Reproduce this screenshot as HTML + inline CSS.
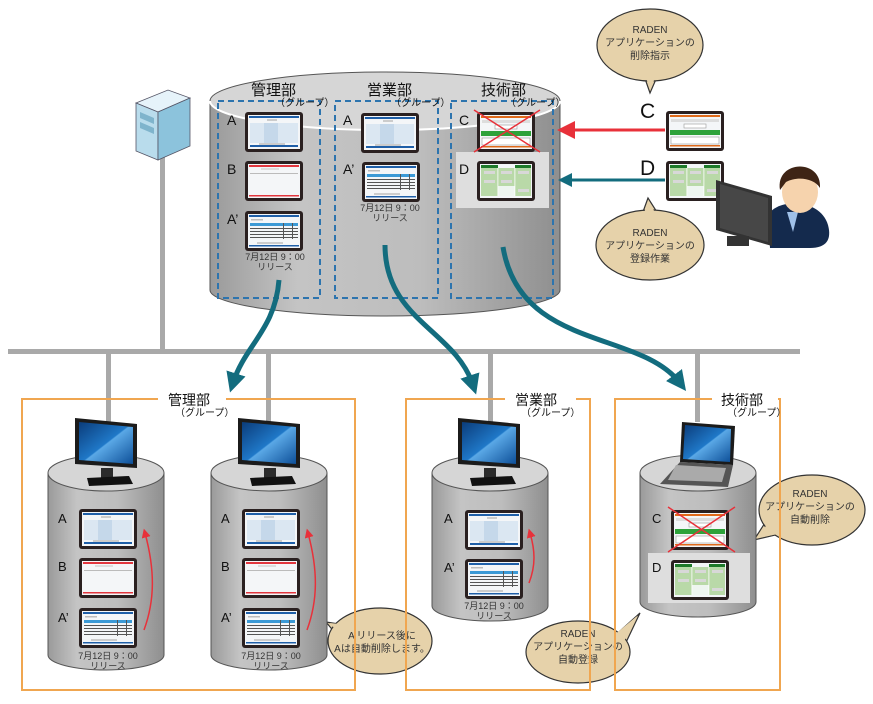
<!DOCTYPE html>
<html><head><meta charset="utf-8"><style>
html,body{margin:0;padding:0;background:#fff}
svg{display:block}
text{font-family:"Liberation Sans","Noto Sans CJK JP",sans-serif}
</style></head><body>
<svg width="873" height="704" viewBox="0 0 873 704" xmlns="http://www.w3.org/2000/svg">
<defs>
<linearGradient id="cyl" x1="0" x2="1" y1="0" y2="0">
<stop offset="0" stop-color="#9a9a9a"/><stop offset="0.25" stop-color="#c4c4c4"/><stop offset="0.6" stop-color="#bdbdbd"/><stop offset="1" stop-color="#8f8f8f"/></linearGradient>
<linearGradient id="scr" x1="0" y1="0" x2="1" y2="1"><stop offset="0" stop-color="#0b3c7a"/><stop offset="0.5" stop-color="#1f78c8"/><stop offset="0.52" stop-color="#5aa8e6"/><stop offset="1" stop-color="#0d4f98"/></linearGradient>
<g id="frame"><rect x="0" y="0" width="58" height="40" rx="3" fill="#2a2020"/><rect x="3" y="3" width="52" height="34" fill="#f4f6f8"/></g>
<g id="appA"><use href="#frame"/><rect x="4" y="4" width="50" height="2" fill="#1f5fa8"/><rect x="22" y="7" width="10" height="2" fill="#ccc"/><rect x="5" y="11" width="48" height="20" fill="#dbe7f2"/><rect x="19" y="11" width="14" height="20" fill="#c5d8ea"/><rect x="5" y="33" width="48" height="2" fill="#1f5fa8"/><rect x="14" y="31" width="26" height="2" fill="#ccc"/></g>
<g id="appB"><use href="#frame"/><rect x="4" y="4" width="50" height="2" fill="#e2363e"/><rect x="16" y="7" width="18" height="2" fill="#ddd"/><rect x="5" y="12" width="48" height="1" fill="#bbb"/><rect x="4" y="34" width="50" height="1.5" fill="#e2363e"/></g>
<g id="appAp"><use href="#frame"/><rect x="4" y="4" width="50" height="2" fill="#1f5fa8"/><rect x="6" y="8" width="12" height="1.5" fill="#bbb"/><rect x="5" y="12" width="48" height="3" fill="#3c9ad6"/><g fill="#555"><rect x="5" y="17" width="48" height="1"/><rect x="5" y="20" width="48" height="1"/><rect x="5" y="23" width="48" height="1"/><rect x="5" y="26" width="48" height="1"/><rect x="38" y="12" width="1" height="16"/><rect x="47" y="12" width="1" height="16"/></g><rect x="12" y="31" width="26" height="2" fill="#ccc"/><rect x="4" y="34" width="50" height="1.5" fill="#1f5fa8"/></g>
<g id="appC"><use href="#frame"/><rect x="4" y="4" width="50" height="2" fill="#e06a1a"/><rect x="5" y="8" width="48" height="3" fill="#ddd"/><rect x="18" y="13" width="22" height="4" fill="#fff" stroke="#999" stroke-width="0.6"/><rect x="4" y="19" width="50" height="5" fill="#2ea23a"/><rect x="5" y="26" width="48" height="7" fill="#fff" stroke="#999" stroke-width="0.6"/><rect x="4" y="34" width="50" height="1.5" fill="#e06a1a"/></g>
<g id="appD"><use href="#frame"/><rect x="4" y="4" width="17" height="3" fill="#1f7a2a"/><rect x="38" y="4" width="16" height="3" fill="#1f7a2a"/><rect x="4" y="7" width="50" height="28" fill="#b9d9a8"/><rect x="21" y="25" width="17" height="10" fill="#eef5f0"/><g fill="#d8d8d8"><rect x="7" y="10" width="11" height="3"/><rect x="24" y="10" width="11" height="3"/><rect x="41" y="10" width="11" height="3"/><rect x="7" y="19" width="11" height="3"/><rect x="24" y="19" width="11" height="3"/><rect x="41" y="28" width="11" height="3"/></g><g fill="#fff"><rect x="20.5" y="7" width="0.8" height="28"/><rect x="37.5" y="7" width="0.8" height="28"/></g></g>
<g id="monitor"><polygon points="0,0 62,6 62,50 0,46" fill="#1b1b1b"/><polygon points="4,4 58,9 58,46 4,42" fill="url(#scr)"/><rect x="26" y="50" width="12" height="10" fill="#2b2b2b"/><polygon points="12,60 54,58 58,66 14,68" fill="#111"/></g>
<marker id="tArr" markerWidth="4" markerHeight="4" refX="2" refY="2" orient="auto" markerUnits="strokeWidth"><path d="M0,0 L4,2 L0,4 Z" fill="#136c7e"/></marker>
<marker id="rArr" markerWidth="6" markerHeight="6" refX="3" refY="3" orient="auto" markerUnits="strokeWidth"><path d="M0,0 L6,3 L0,6 Z" fill="#e8313a"/></marker>
</defs>

<rect x="8" y="349" width="792" height="5" fill="#a9a9a9"/>
<rect x="160" y="150" width="5" height="202" fill="#a9a9a9"/>
<rect x="106" y="352" width="5" height="70" fill="#a9a9a9"/>
<rect x="266" y="352" width="5" height="70" fill="#a9a9a9"/>
<rect x="488" y="352" width="5" height="70" fill="#a9a9a9"/>
<rect x="695" y="352" width="5" height="70" fill="#a9a9a9"/>

<!-- server -->
<polygon points="136,103 168,90 190,98 158,112" fill="#e6f3fa" stroke="#556" stroke-width="0.8"/>
<polygon points="136,103 158,112 158,160 136,151" fill="#b9dcec" stroke="#556" stroke-width="0.8"/>
<polygon points="158,112 190,98 190,146 158,160" fill="#8cc3dc" stroke="#556" stroke-width="0.8"/>
<polygon points="140,112 154,118 154,124 140,118" fill="#7fb4cc"/>
<polygon points="140,122 154,128 154,134 140,128" fill="#7fb4cc"/>

<!-- top cylinder -->
<path d="M210,101 L210,290 A175,26 0 0 0 560,290 L560,101 Z" fill="url(#cyl)" stroke="#555" stroke-width="1"/>
<ellipse cx="385" cy="101" rx="175" ry="29" fill="#d6d6d6" stroke="#555" stroke-width="1"/>
<path d="M210,101 A175,29 0 0 0 560,101" fill="none" stroke="#fff" stroke-width="2"/>
<rect x="456" y="152" width="93" height="56" fill="#dedede"/>
<g fill="none" stroke="#2d74ae" stroke-width="2" stroke-dasharray="6,4">
<rect x="218" y="101" width="102" height="197"/><rect x="335" y="101" width="103" height="197"/><rect x="451" y="101" width="102" height="197"/></g>
<g font-size="15" fill="#111"><text x="251" y="95">管理部</text><text x="367" y="95">営業部</text><text x="481" y="95">技術部</text></g>
<g font-size="10" fill="#111"><text x="275" y="106">（グループ）</text><text x="391" y="106">（グループ）</text><text x="506" y="106">（グループ）</text></g>
<g font-size="14" fill="#111"><text x="227" y="125">A</text><text x="227" y="174">B</text><text x="227" y="224">A’</text><text x="343" y="125">A</text><text x="343" y="174">A’</text><text x="459" y="125">C</text><text x="459" y="174">D</text></g>
<use href="#appA" x="245" y="112"/><use href="#appB" x="245" y="161"/><use href="#appAp" x="245" y="211"/>
<use href="#appA" x="361" y="113"/><use href="#appAp" x="362" y="162"/>
<use href="#appC" x="477" y="112"/><use href="#appD" x="477" y="161"/>
<path d="M474,110 L540,152 M540,110 L474,152" stroke="#e8313a" stroke-width="1.5"/>
<g font-size="9" fill="#333" text-anchor="middle"><text x="275" y="260">7月12日 9：00</text><text x="275" y="270">リリース</text><text x="390" y="211">7月12日 9：00</text><text x="390" y="221">リリース</text></g>

<g fill="none" stroke="#136c7e" stroke-width="5" marker-end="url(#tArr)">
<path d="M279,280 C275,330 245,345 233,383"/>
<path d="M385,245 C385,320 455,330 473,385"/>
<path d="M503,247 C520,350 640,330 680,383"/>
</g>

<line x1="665" y1="130" x2="566" y2="130" stroke="#e8313a" stroke-width="3" marker-end="url(#rArr)"/>
<line x1="665" y1="180" x2="570" y2="180" stroke="#136c7e" stroke-width="3"/>
<polygon points="558,180 572,173 572,187" fill="#136c7e"/>
<text x="640" y="118" font-size="21" fill="#111">C</text><text x="640" y="175" font-size="21" fill="#111">D</text>
<use href="#appC" x="666" y="111"/><use href="#appD" x="666" y="161"/>

<!-- person -->
<path d="M768,215 C778,198 820,198 828,225 C832,240 826,248 810,248 L770,248 Z" fill="#142a4d"/>
<polygon points="787,212 798,212 793,232" fill="#9fc0e8"/>
<ellipse cx="800" cy="192" rx="18" ry="21" fill="#f6d3ad"/>
<path d="M780,190 C775,160 822,158 820,188 C814,178 797,176 786,182 Z" fill="#3e2415"/>
<polygon points="716,180 772,196 772,246 716,230" fill="#333"/>
<polygon points="720,184 768,198 768,242 720,228" fill="#474747"/>
<rect x="727" y="236" width="22" height="10" fill="#333"/>

<!-- bubbles: tail stroked, ellipse, tail fill -->
<g fill="#e6d2aa" stroke="#333" stroke-width="1.2">
<path d="M642,70 L650,93 L660,70 Z"/><ellipse cx="650" cy="45" rx="53" ry="36"/>
<path d="M640,220 L648,198 L662,220 Z"/><ellipse cx="650" cy="245" rx="54" ry="35"/>
<path d="M345,625 L326,622 L345,645 Z"/><ellipse cx="380" cy="641" rx="52" ry="33"/>
<path d="M610,640 L640,613 L620,655 Z"/><ellipse cx="578" cy="652" rx="52" ry="31"/>
<path d="M770,515 L754,540 L775,535 Z"/><ellipse cx="812" cy="510" rx="53" ry="35"/>
</g>
<g fill="#e6d2aa">
<path d="M643,68 L650,90 L659,68 Z"/>
<path d="M641,222 L648,201 L661,222 Z"/>
<path d="M348,625 L330,623 L348,645 Z"/>
<path d="M607,641 L637,616 L617,655 Z"/>
<path d="M773,515 L758,538 L778,534 Z"/>
</g>
<g font-size="10" fill="#333" text-anchor="middle">
<text x="650" y="33">RADEN</text><text x="650" y="46">アプリケーションの</text><text x="650" y="59">削除指示</text>
<text x="650" y="236">RADEN</text><text x="650" y="249">アプリケーションの</text><text x="650" y="262">登録作業</text>
<text x="382" y="639">A’リリース後に</text><text x="382" y="652">Aは自動削除します。</text>
<text x="578" y="637">RADEN</text><text x="578" y="650">アプリケーションの</text><text x="578" y="663">自動登録</text>
<text x="810" y="497">RADEN</text><text x="810" y="510">アプリケーションの</text><text x="810" y="523">自動削除</text>
</g>

<g fill="none" stroke="#f0a650" stroke-width="2">
<path d="M158,399 L22,399 L22,690 L355,690 L355,399 L226,399"/>
<path d="M505,399 L406,399 L406,690 L590,690 L590,399 L576,399"/>
<path d="M712,399 L615,399 L615,690 L780,690 L780,399 L778,399"/>
</g>
<g font-size="14" fill="#111"><text x="168" y="405">管理部</text><text x="515" y="405">営業部</text><text x="721" y="405">技術部</text></g>
<g font-size="10" fill="#111"><text x="175" y="416">（グループ）</text><text x="521" y="416">（グループ）</text><text x="727" y="416">（グループ）</text></g>

<g stroke="#555" stroke-width="1">
<path d="M48,473 L48,655 A58,15 0 0 0 164,655 L164,473 Z" fill="url(#cyl)"/><ellipse cx="106" cy="473" rx="58" ry="18" fill="#d6d6d6"/>
<path d="M211,473 L211,655 A58,15 0 0 0 327,655 L327,473 Z" fill="url(#cyl)"/><ellipse cx="269" cy="473" rx="58" ry="18" fill="#d6d6d6"/>
<path d="M432,473 L432,606 A58,15 0 0 0 548,606 L548,473 Z" fill="url(#cyl)"/><ellipse cx="490" cy="473" rx="58" ry="18" fill="#d6d6d6"/>
<path d="M640,473 L640,602 A58,15 0 0 0 756,602 L756,473 Z" fill="url(#cyl)"/><ellipse cx="698" cy="473" rx="58" ry="18" fill="#d6d6d6"/>
</g>
<use href="#monitor" x="75" y="418"/><use href="#monitor" x="238" y="418"/><use href="#monitor" x="458" y="418"/>
<polygon points="682,422 735,426 733,465 680,462" fill="#1b1b1b"/><polygon points="685,425 731,429 730,462 683,459" fill="url(#scr)"/>
<polygon points="680,462 733,465 728,487 660,484" fill="#555"/><polygon points="676,465 726,468 722,482 668,480" fill="#aaa"/>

<rect x="648" y="553" width="102" height="50" fill="#dedede"/>
<g font-size="13" fill="#111"><text x="58" y="523">A</text><text x="58" y="571">B</text><text x="58" y="622">A’</text><text x="221" y="523">A</text><text x="221" y="571">B</text><text x="221" y="622">A’</text><text x="444" y="523">A</text><text x="444" y="572">A’</text><text x="652" y="523">C</text><text x="652" y="572">D</text></g>
<use href="#appA" x="79" y="509"/><use href="#appB" x="79" y="558"/><use href="#appAp" x="79" y="608"/>
<use href="#appA" x="242" y="509"/><use href="#appB" x="242" y="558"/><use href="#appAp" x="242" y="608"/>
<use href="#appA" x="465" y="510"/><use href="#appAp" x="465" y="559"/>
<use href="#appC" x="671" y="510"/><use href="#appD" x="671" y="560"/>
<path d="M668,507 L735,552 M735,507 L668,552" stroke="#e8313a" stroke-width="1.5"/>
<g font-size="9" fill="#333" text-anchor="middle"><text x="108" y="659">7月12日 9：00</text><text x="108" y="669">リリース</text><text x="271" y="659">7月12日 9：00</text><text x="271" y="669">リリース</text><text x="494" y="609">7月12日 9：00</text><text x="494" y="619">リリース</text></g>
<g fill="none" stroke="#e8313a" stroke-width="1.5" marker-end="url(#rArr)">
<path d="M144,630 C155,600 155,570 145,533"/>
<path d="M307,630 C318,600 318,570 308,533"/>
<path d="M529,583 C536,565 535,550 530,533"/>
</g>
</svg>
</body></html>
